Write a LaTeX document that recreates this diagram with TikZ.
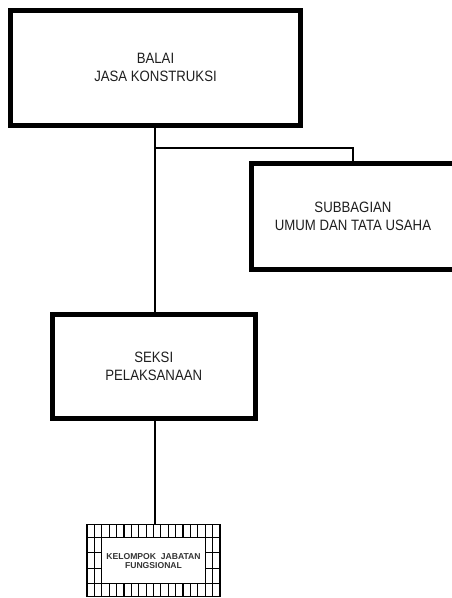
\documentclass[tikz,border=0pt]{standalone}
\usepackage{fontspec}
\setmainfont{Liberation Sans}
\newfontfamily\lblfont{Liberation Sans}[FakeStretch=0.88]
\newfontfamily\smallfont{Liberation Sans Bold}
\begin{document}
\begin{tikzpicture}[x=1pt,y=-1pt,
  unitbox/.style={draw=black, line width=5pt, fill=white, align=center,
    text=black!88, font=\lblfont\fontsize{15}{17.8}\selectfont,
    inner sep=0pt},
  link/.style={draw=black, line width=2pt},
  gridline/.style={draw=black, line width=1.2pt}]
\useasboundingbox (0,0) rectangle (452,598);
% boxes
\node[unitbox, minimum width=290pt, minimum height=115.5pt] (balai) at (155.5,67.75) {BALAI\\JASA KONSTRUKSI};
\node[unitbox, minimum width=204pt, minimum height=105.5pt] (subbag) at (353,216.25) {SUBBAGIAN\\UMUM DAN TATA USAHA};
\node[unitbox, minimum width=203.5pt, minimum height=104pt] (seksi) at (153.75,366) {SEKSI\\PELAKSANAAN};
\node[draw=black, line width=1.2pt, minimum width=133pt, minimum height=72.7pt, inner sep=0pt] (kel) at (153.5,560.5) {};
% grid decoration of the functional group box
\foreach \i in {1,...,17} {
  \draw[gridline] ({87+\i*133/18},524) -- ({87+\i*133/18},537.3);
  \draw[gridline] ({87+\i*133/18},583.7) -- ({87+\i*133/18},596.7);
}
\draw[gridline] (87,537.3) -- (220,537.3);
\draw[gridline] (87,583.7) -- (220,583.7);
\draw[gridline] ({87+2*133/18},537.3) -- ({87+2*133/18},583.7);
\draw[gridline] ({220-2*133/18},537.3) -- ({220-2*133/18},583.7);
\draw[gridline] ({87+133/18},537.3) -- ({87+133/18},583.7);
\draw[gridline] ({220-133/18},537.3) -- ({220-133/18},583.7);
\foreach \y in {552.8,568.3} {
  \draw[gridline] (87,\y) -- ({87+2*133/18},\y);
  \draw[gridline] ({220-2*133/18},\y) -- (220,\y);
}
\node[align=center, inner sep=0pt, text=black!80, font=\smallfont\fontsize{8.6}{9.5}\selectfont] (keltext) at (153.5,561) {KELOMPOK\ \ JABATAN\\FUNGSIONAL};
% connectors
\coordinate (branch) at (155,147.5);
\draw[link] (balai.south -| branch) -- (seksi.north -| branch);
\draw[link] (branch) -| (subbag.north);
\draw[link] (seksi.south -| branch) -- (kel.north -| branch);
\end{tikzpicture}
\end{document}
